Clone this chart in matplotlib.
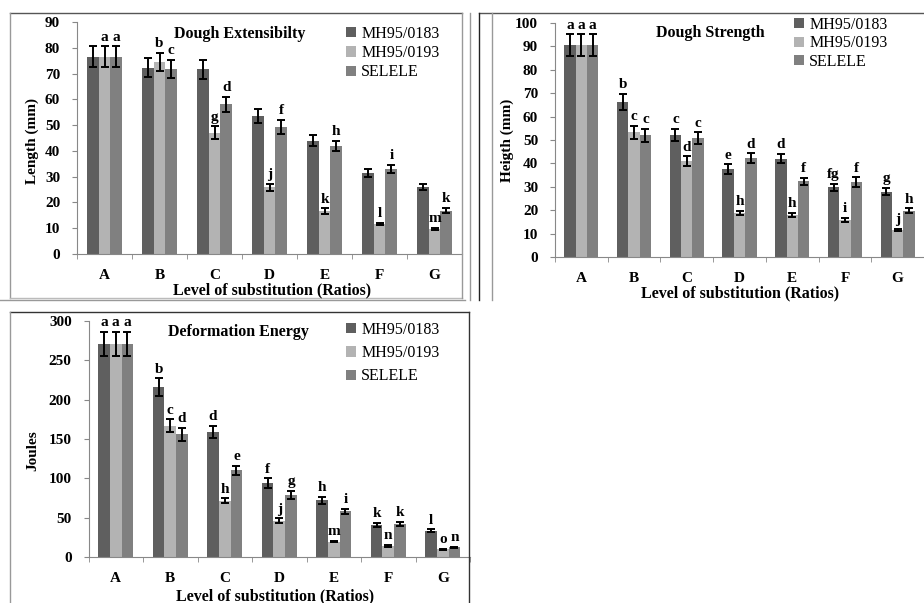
import matplotlib.pyplot as plt
from matplotlib.lines import Line2D
import numpy as np

plt.rcParams['font.family'] = ['Liberation Serif', 'DejaVu Serif']
plt.rcParams['font.weight'] = 'bold'

# data
cats = ['A', 'B', 'C', 'D', 'E', 'F', 'G']
series = ['MH95/0183', 'MH95/0193', 'SELELE']

ext_0183 = [76.5, 72.3, 71.6, 53.6, 44, 31.5, 26]
ext_0193 = [76.5, 74.5, 47, 25.8, 16.7, 11.6, 9.6]
ext_selele = [76.5, 71.8, 58, 49.3, 42, 33, 16.8]
ext_err_0183 = [4, 3.6, 3.6, 2.8, 2.2, 1.5, 1]
ext_err_0193 = [4, 3.6, 2.5, 1.5, 1, 0.5, 0.4]
ext_err_selele = [4, 3.6, 2.8, 2.6, 2, 1.5, 1]
ext_let_0183 = ['', '', '', '', '', '', '']
ext_let_0193 = ['a', 'b', 'g', 'j', 'k', 'l', 'm']
ext_let_selele = ['a', 'c', 'd', 'f', 'h', 'i', 'k']

str_0183 = [90.5, 66.3, 52.3, 37.6, 42, 29.9, 27.9]
str_0193 = [90.5, 53.3, 41, 18.8, 17.9, 15.8, 11.5]
str_selele = [90.5, 52, 50.8, 42.3, 32.3, 32, 19.8]
str_err_0183 = [4.6, 3.4, 2.6, 2, 2, 1.5, 1.5]
str_err_0193 = [4.6, 2.8, 2, 1, 1, 1, 0.6]
str_err_selele = [4.6, 2.8, 2.5, 2, 1.5, 2, 1]
str_let_0183 = ['a', 'b', 'c', 'e', 'd', 'fg', 'g']
str_let_0193 = ['a', 'c', 'd', 'h', 'h', 'i', 'j']
str_let_selele = ['a', 'c', 'c', 'd', 'f', 'f', 'h']

en_0183 = [271, 216, 159, 94, 72, 41, 33.5]
en_0193 = [271, 167, 71.5, 46, 19.5, 14, 10]
en_selele = [271, 156, 110, 79, 58, 42, 12.5]
en_err_0183 = [15, 11, 8, 6, 4, 2.5, 1.5]
en_err_0193 = [15, 8, 3, 3, 1, 1, 0.5]
en_err_selele = [15, 8, 6, 5, 3, 3, 0.5]
en_let_0183 = ['a', 'b', 'd', 'f', 'h', 'k', 'l']
en_let_0193 = ['a', 'c', 'h', 'j', 'm', 'n', 'o']
en_let_selele = ['a', 'd', 'e', 'g', 'i', 'k', 'n']

colors = ['#5f5f5f', '#b3b3b3', '#808080']
W, H = 924, 603

fig = plt.figure(figsize=(9.24, 6.03), dpi=100)


def px_axes(left, right, top, bottom):
    return fig.add_axes([left / W, 1 - bottom / H, (right - left) / W, (bottom - top) / H])


def ftext(x, y, s, **kw):
    fig.text(x / W, 1 - y / H, s, **kw)


def draw_panel(ax, vals, errs, lets, ymax, ystep, xright):
    x = np.arange(len(cats))
    w = 0.215
    for i in range(3):
        xs = x + (i - 1) * w
        ax.bar(xs, vals[i], w, color=colors[i], label=series[i], zorder=2)
        ax.errorbar(xs, vals[i], yerr=errs[i], fmt='none', ecolor='black',
                    elinewidth=1.4, capsize=3.2, capthick=1.4, zorder=3)
        for xx, v, e, t in zip(xs, vals[i], errs[i], lets[i]):
            ax.annotate(t, (xx, v + e), xytext=(0, 2), textcoords='offset points',
                        ha='center', va='bottom', fontsize=11, fontweight='bold')
    ax.set_xlim(-0.5, xright)
    ax.set_ylim(0, ymax)
    ax.set_yticks(np.arange(0, ymax + 1, ystep))
    ax.set_xticks(x)
    ax.set_xticklabels(cats)
    ax.set_xticks(np.arange(-0.5, 7, 1), minor=True)
    ax.tick_params(axis='x', which='major', length=0, pad=11, labelsize=11)
    ax.tick_params(axis='x', which='minor', length=3.6, color='#888888')
    ax.tick_params(axis='y', length=3.6, color='#888888', pad=8.5, labelsize=11)
    for s in ['top', 'right']:
        ax.spines[s].set_visible(False)
    for s in ['left', 'bottom']:
        ax.spines[s].set_color('#888888')


def add_legend(ax, x, y, spacing):
    ax.legend(loc='upper left', bbox_to_anchor=(x / W, 1 - y / H), bbox_transform=fig.transFigure,
              frameon=False, prop={'weight': 'normal', 'size': 11.5}, handlelength=0.6,
              handleheight=0.6, handletextpad=0.35, labelspacing=spacing,
              borderpad=0, borderaxespad=0)


# panel 1
ax1 = px_axes(77, 462, 22, 254)
draw_panel(ax1, [ext_0183, ext_0193, ext_selele],
           [ext_err_0183, ext_err_0193, ext_err_selele],
           [ext_let_0183, ext_let_0193, ext_let_selele], 90, 10, -0.5 + (462 - 77) / 56)
add_legend(ax1, 346, 26, 0.2)
ftext(240, 34, 'Dough Extensibilty', ha='center', va='center', fontsize=11.5)
ftext(272, 290, 'Level of substitution (Ratios)', ha='center', va='center', fontsize=11.5)
ftext(32, 141, 'Length (mm)', ha='center', va='center', rotation=90, fontsize=11)

# panel 2
ax2 = px_axes(555, 924, 23, 257)
draw_panel(ax2, [str_0183, str_0193, str_selele],
           [str_err_0183, str_err_0193, str_err_selele],
           [str_let_0183, str_let_0193, str_let_selele], 100, 10, -0.5 + (924 - 555) / 53.2)
add_legend(ax2, 794, 17, 0.15)
ftext(710, 33, 'Dough Strength', ha='center', va='center', fontsize=11.5)
ftext(740, 293, 'Level of substitution (Ratios)', ha='center', va='center', fontsize=11.5)
ftext(507, 140, 'Heigth (mm)', ha='center', va='center', rotation=90, fontsize=11)

# panel 3
ax3 = px_axes(88.5, 470, 321, 557)
draw_panel(ax3, [en_0183, en_0193, en_selele],
           [en_err_0183, en_err_0193, en_err_selele],
           [en_let_0183, en_let_0193, en_let_selele], 300, 50, 6.5)
add_legend(ax3, 346, 322, 0.45)
ftext(238, 332, 'Deformation Energy', ha='center', va='center', fontsize=11.5)
ftext(275, 596, 'Level of substitution (Ratios)', ha='center', va='center', fontsize=11.5)
ftext(33, 451, 'Joules', ha='center', va='center', rotation=90, fontsize=11)


# panel frames
def fline(xs, ys, color, lw=1.0):
    fig.add_artist(Line2D([v / W for v in xs], [1 - v / H for v in ys],
                          color=color, lw=lw, transform=fig.transFigure))


fline([10, 462], [13, 13], '#555555')
fline([10, 10], [13, 298], '#999999')
fline([10, 462], [298, 298], '#bbbbbb')
fline([462, 462], [13, 298], '#999999')
fline([479, 924], [13, 13], '#555555')
fline([479, 479], [13, 300], '#222222')
fline([492, 492], [13, 300], '#999999')
fline([470, 470], [13, 300], '#999999')
fline([0, 465], [300, 300], '#999999')
fline([10, 469], [312, 312], '#333333')
fline([10, 10], [312, 603], '#999999')
fline([469, 469], [312, 603], '#333333')

fig.savefig('out.png', dpi=100)
